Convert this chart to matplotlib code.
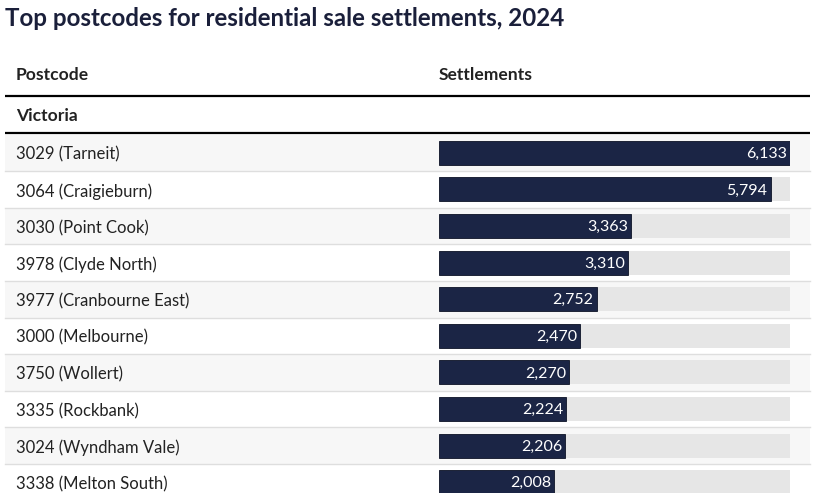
import matplotlib
matplotlib.use("Agg")
import matplotlib.pyplot as plt

title = "Top postcodes for residential sale settlements, 2024"
col_headers = ["Postcode", "Settlements"]
group = "Victoria"
postcodes = ["3029 (Tarneit)", "3064 (Craigieburn)", "3030 (Point Cook)", "3978 (Clyde North)",
             "3977 (Cranbourne East)", "3000 (Melbourne)", "3750 (Wollert)", "3335 (Rockbank)",
             "3024 (Wyndham Vale)", "3338 (Melton South)"]
settlements = [6133, 5794, 3363, 3310, 2752, 2470, 2270, 2224, 2206, 2008]

NAVY = "#1b2545"
TRACK = "#e6e6e6"
STRIPE = "#f7f7f7"
SEP = "#dedede"
TXT = "#222222"
FONT = "Lato"

W, H = 815, 493
ROW_TOP, ROW_H = 134.5, 36.6
BAR_X0, BAR_X1 = 439, 790

fig = plt.figure(figsize=(W / 100, H / 100), dpi=100)

# pixel-space axes for the table furniture
ax = fig.add_axes([0, 0, 1, 1])
ax.set_xlim(0, W)
ax.set_ylim(H, 0)
ax.axis("off")

ax.text(5, 18, title, family=FONT, fontsize=17.4, fontweight="bold", color="#1a1f3a", va="center")
ax.text(16, 75, col_headers[0], family=FONT, fontsize=12.6, fontweight="bold", color=TXT, va="center")
ax.text(BAR_X0, 75, col_headers[1], family=FONT, fontsize=12.6, fontweight="bold", color=TXT, va="center")
ax.text(16, 116, group, family=FONT, fontsize=12.6, fontweight="bold", color=TXT, va="center")
ax.plot([5, 810], [96, 96], color="black", lw=1.6, solid_capstyle="butt")
ax.plot([5, 810], [133, 133], color="black", lw=1.6, solid_capstyle="butt")

n = len(postcodes)
for i, name in enumerate(postcodes):
    top = ROW_TOP + i * ROW_H
    if i % 2 == 0:
        ax.fill_between([5, 810], top, top + ROW_H, color=STRIPE, lw=0, zorder=0)
    if i > 0:
        ax.plot([5, 810], [top, top], color=SEP, lw=1, zorder=1)
    ax.text(16, top + ROW_H / 2 + 2, name, family=FONT, fontsize=12, color=TXT, va="center")

# bar axes, rows in data units
bottom = ROW_TOP + n * ROW_H
bx = fig.add_axes([BAR_X0 / W, 1 - bottom / H, (BAR_X1 - BAR_X0) / W, n * ROW_H / H])
bx.patch.set_alpha(0)
bx.axis("off")
vmax = max(settlements)
bx.set_xlim(0, vmax)
bx.set_ylim(n - 0.5, -0.5)
rows = list(range(n))
bx.barh(rows, [vmax] * n, height=0.66, color=TRACK, lw=0)
bx.barh(rows, settlements, height=0.66, color=NAVY, edgecolor="#0d1326", lw=0.6)
for i, v in enumerate(settlements):
    bx.annotate(f"{v:,}", (v, i), xytext=(-3, -1), textcoords="offset pixels",
                ha="right", va="center", color="white", family=FONT, fontsize=11.5)

fig.savefig("out.png", dpi=100)
